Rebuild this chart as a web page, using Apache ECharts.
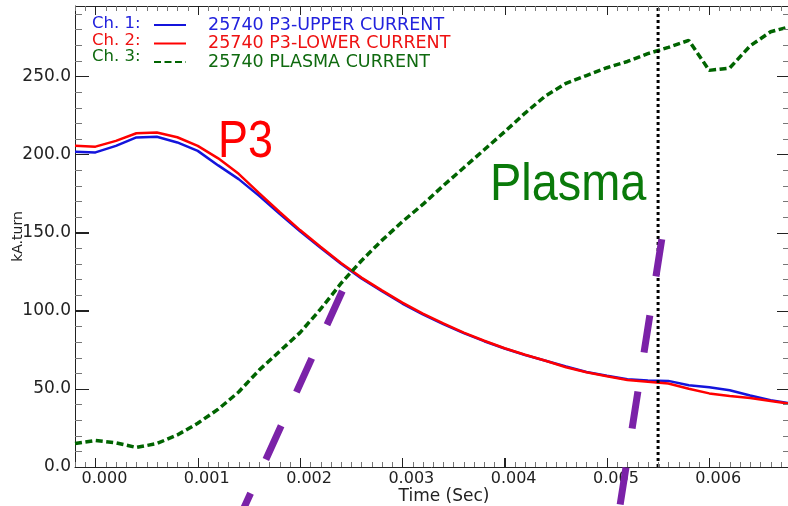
<!DOCTYPE html>
<html><head><meta charset="utf-8">
<script src="https://cdn.jsdelivr.net/npm/echarts@6/dist/echarts.min.js"></script>
<style>html,body{margin:0;padding:0;background:#fff}#c{width:788px;height:506px}</style>
</head><body><div id="c"></div><script>
// ---- data ----
const time = [-0.0002, 0, 0.0002, 0.0004, 0.0006, 0.0008, 0.0010, 0.0012, 0.0014, 0.0016, 0.0018, 0.0020,
  0.0022, 0.0024, 0.0026, 0.0028, 0.0030, 0.0032, 0.0034, 0.0036, 0.0038, 0.0040, 0.0042, 0.0044,
  0.0046, 0.0048, 0.0050, 0.0052, 0.0054, 0.0056, 0.0058, 0.0060, 0.0062, 0.0064, 0.0066, 0.0068];
const p3Upper = [201.7, 201.3, 205.5, 210.9, 211.3, 207.7, 202.3, 193.0, 184.2, 173.5, 162.0, 150.8,
  140.3, 130.0, 120.6, 112.5, 104.6, 97.6, 91.4, 85.7, 80.5, 75.8, 71.7, 68.0,
  64.3, 60.8, 58.4, 56.1, 55.3, 55.1, 52.3, 51.1, 49.1, 45.8, 42.7, 40.6];
const p3Lower = [205.5, 205.0, 208.7, 213.6, 214.0, 211.0, 205.5, 197.5, 187.6, 175.3, 163.2, 151.6,
  141.0, 130.6, 121.2, 113.0, 105.2, 98.2, 91.9, 86.0, 80.8, 76.0, 71.8, 68.0,
  63.8, 60.6, 58.1, 55.7, 54.6, 53.4, 50.1, 47.1, 45.4, 44.1, 42.3, 40.3];
const plasma = [15.0, 17.0, 15.5, 12.5, 15.0, 20.5, 28.0, 37.0, 48.0, 62.0, 74.0, 86.0,
  101.0, 117.5, 132.0, 145.0, 157.0, 168.0, 180.0, 191.5, 203.0, 214.5, 226.5, 237.5,
  245.5, 250.5, 255.5, 259.5, 264.5, 268.5, 273.0, 253.8, 255.3, 269.5, 278.5, 282.0];
const seriesNames = ['25740 P3-UPPER CURRENT', '25740 P3-LOWER CURRENT', '25740 PLASMA CURRENT'];
const channelLabels = ['Ch. 1:', 'Ch. 2:', 'Ch. 3:'];
const xTickValues = [0, 0.001, 0.002, 0.003, 0.004, 0.005, 0.006];
const yTickValues = [0, 50, 100, 150, 200, 250];
const xMinorStep = 0.0001;
const yMinorStep = 10;
const markerTime = 0.0055;
const purpleLineA = [[0.002413, 112.6], [0.001422, -30.4]];
const purpleLineB = [[0.005536, 145.7], [0.005114, -30.4]];

// ---- styling ----
const X_MIN = -0.0002, X_MAX = 0.00677, Y_MIN = 0, Y_MAX = 295;
const FONT = 'DejaVu Sans';
const AX = '#222';
const MINOR = '#777';
const zip = (xs, ys) => xs.map((x, i) => [x, ys[i]]);

// minor tick positions (axis ticks, not data)
const xMinorTicks = [];
for (let k = Math.ceil(X_MIN / xMinorStep); k * xMinorStep <= X_MAX + 1e-12; k++) xMinorTicks.push(+(k * xMinorStep).toFixed(6));
const yMinorTicks = [];
for (let v = Y_MIN; v <= Y_MAX; v += yMinorStep) yMinorTicks.push(v);

// frame + ticks drawn through the cartesian scales (api.coord)
function renderFrame(params, api) {
  const kids = [];
  const crisp = v => Math.round(v) + 0.5;
  const seg = (x1, y1, x2, y2, color) => kids.push({type: 'line', silent: true,
    shape: {x1: x1, y1: y1, x2: x2, y2: y2}, style: {stroke: color, lineWidth: 1, fill: null, opacity: 1}});
  const top = api.coord([X_MIN, Y_MAX])[1], bot = api.coord([X_MIN, Y_MIN])[1];
  const left = api.coord([X_MIN, Y_MIN])[0], right = api.coord([X_MAX, Y_MIN])[0];
  seg(left, crisp(top), right, crisp(top), AX);
  xMinorTicks.forEach(t => { const x = crisp(api.coord([t, Y_MIN])[0]);
    seg(x, bot, x, bot - 5, MINOR); seg(x, top, x, top + 5, MINOR); });
  xTickValues.forEach(t => { const x = crisp(api.coord([t, Y_MIN])[0]);
    seg(x, bot, x, bot - 9, AX); seg(x, top, x, top + 9, AX); });
  yMinorTicks.forEach(v => { const y = crisp(api.coord([X_MIN, v])[1]);
    seg(left, y, left + 7, y, MINOR); seg(right, y, right - 5, y, MINOR); });
  yTickValues.forEach(v => { const y = crisp(api.coord([X_MIN, v])[1]);
    seg(left, y, left + 14, y, AX); seg(right, y, right - 11, y, AX); });
  return {type: 'group', children: kids};
}

// free texts (channel labels, P3, Plasma) drawn as a custom series instead of the graphic component
const textSpecs = [
  {text: channelLabels[0], x: 92, y: 24, color: '#2222dd', font: '16.5px "DejaVu Sans"', sx: 1},
  {text: channelLabels[1], x: 92, y: 40.5, color: '#ee1111', font: '16.5px "DejaVu Sans"', sx: 1},
  {text: channelLabels[2], x: 92, y: 57, color: '#0f6a0f', font: '16.5px "DejaVu Sans"', sx: 1},
  {text: 'P3', x: 218, y: 143, color: '#ff0000', font: '51px "Liberation Sans"', sx: 0.88},
  {text: 'Plasma', x: 490, y: 186, color: '#0a7a0a', font: '51px "Liberation Sans"', sx: 0.92}
];
function renderTexts(params, api) {
  return {type: 'group', children: textSpecs.map(s => ({
    type: 'text', x: s.x, y: s.y, scaleX: s.sx, silent: true,
    style: {text: s.text, fill: s.color, font: s.font, verticalAlign: 'middle', align: 'left', opacity: 1}
  }))};
}

const chart = echarts.init(document.getElementById('c'), null, {renderer: 'canvas'});
chart.setOption({
  animation: false,
  backgroundColor: '#fff',
  grid: {left: 75, right: 0, top: 6, bottom: 39, outerBoundsMode: 'none'},
  legend: {
    orient: 'vertical', left: 153, top: 16, padding: 0,
    itemWidth: 32, itemHeight: 10, itemGap: 0.5, selectedMode: false,
    itemStyle: {opacity: 0},
    data: [
      {name: seriesNames[0], textStyle: {color: '#2222dd'}},
      {name: seriesNames[1], textStyle: {color: '#ee1111'}},
      {name: seriesNames[2], textStyle: {color: '#0f6a0f'}}
    ],
    textStyle: {fontFamily: FONT, fontSize: 17.5, lineHeight: 16, padding: [0, 0, 0, 17]}
  },
  xAxis: {
    type: 'value', min: X_MIN, max: X_MAX, position: 'bottom', splitLine: {show: false},
    axisLine: {show: true, onZero: false, lineStyle: {color: AX, width: 1}},
    axisTick: {show: true, inside: true, length: 9, customValues: xTickValues, lineStyle: {color: AX}},
    axisLabel: {customValues: xTickValues, formatter: v => v.toFixed(3), margin: 4, fontFamily: FONT, fontSize: 16, color: AX, padding: [0, 0, 0, 18]},
    name: 'Time (Sec)', nameLocation: 'middle', nameGap: 21, nameMoveOverlap: false,
    nameTextStyle: {fontFamily: FONT, fontSize: 17, color: AX, padding: [0, 0, 0, 25]}
  },
  yAxis: {
    type: 'value', min: Y_MIN, max: Y_MAX, position: 'left', splitLine: {show: false},
    axisLine: {show: true, onZero: false, lineStyle: {color: AX, width: 1}},
    axisTick: {show: true, inside: true, length: 14, customValues: yTickValues, lineStyle: {color: AX}},
    axisLabel: {customValues: yTickValues, formatter: v => v.toFixed(1), margin: 4, fontFamily: FONT, fontSize: 17, color: AX},
    name: 'kA.turn', nameLocation: 'middle', nameRotate: 90, nameGap: 50, nameMoveOverlap: false,
    nameTextStyle: {fontFamily: FONT, fontSize: 14, color: AX}
  },
  series: [
    {name: seriesNames[0], type: 'line', data: zip(time, p3Upper), symbol: 'none', z: 2,
      lineStyle: {color: '#1414dc', width: 2.5}, itemStyle: {color: '#1414dc'}},
    {name: seriesNames[1], type: 'line', data: zip(time, p3Lower), symbol: 'none', z: 3,
      lineStyle: {color: '#ff0000', width: 2.5}, itemStyle: {color: '#ff0000'}},
    {name: seriesNames[2], type: 'line', data: zip(time, plasma), symbol: 'none', z: 4,
      lineStyle: {color: '#006400', width: 3.5, type: [7, 3.5]}, itemStyle: {color: '#006400'}},
    {name: 'marker', type: 'line', data: [[markerTime, Y_MIN], [markerTime, Y_MAX]], symbol: 'none', z: 5,
      lineStyle: {color: '#000', width: 3, type: [3, 3]}, silent: true},
    {name: 'annotA', type: 'line', data: purpleLineA, symbol: 'none', clip: false, z: 6,
      lineStyle: {color: '#7b22a8', width: 7, type: [37, 37], cap: 'butt'}, silent: true},
    {name: 'annotB', type: 'line', data: purpleLineB, symbol: 'none', clip: false, z: 6,
      lineStyle: {color: '#7b22a8', width: 7, type: [37.5, 39.5], cap: 'butt'}, silent: true},
    {name: 'frame', type: 'custom', coordinateSystem: 'cartesian2d', data: [[X_MIN, Y_MIN]],
      renderItem: renderFrame, clip: false, silent: true, z: 8},
    {name: 'texts', type: 'custom', coordinateSystem: 'cartesian2d', data: [[X_MIN, Y_MIN]],
      renderItem: renderTexts, clip: false, silent: true, z: 9}
  ]
});
</script></body></html>
